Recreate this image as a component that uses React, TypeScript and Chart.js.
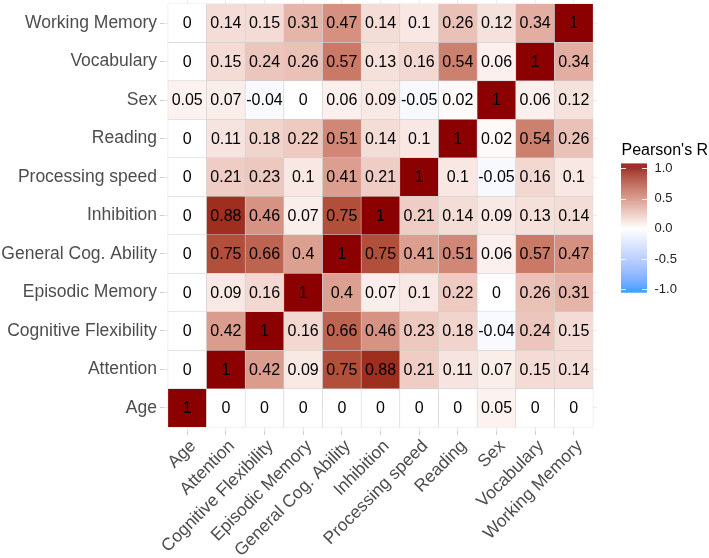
import React, { useEffect, useRef } from 'react';
import { Chart, registerables } from 'chart.js';

Chart.register(...registerables);

// Variables (x: left→right, y: bottom→top)
const variables = [
  'Age',
  'Attention',
  'Cognitive Flexibility',
  'Episodic Memory',
  'General Cog. Ability',
  'Inhibition',
  'Processing speed',
  'Reading',
  'Sex',
  'Vocabulary',
  'Working Memory',
];

// Correlation rows (one per variable, columns in the same order as `variables`)
const rAge = [1, 0, 0, 0, 0, 0, 0, 0, 0.05, 0, 0];
const rAttention = [0, 1, 0.42, 0.09, 0.75, 0.88, 0.21, 0.11, 0.07, 0.15, 0.14];
const rCognitiveFlexibility = [0, 0.42, 1, 0.16, 0.66, 0.46, 0.23, 0.18, -0.04, 0.24, 0.15];
const rEpisodicMemory = [0, 0.09, 0.16, 1, 0.4, 0.07, 0.1, 0.22, 0, 0.26, 0.31];
const rGeneralCogAbility = [0, 0.75, 0.66, 0.4, 1, 0.75, 0.41, 0.51, 0.06, 0.57, 0.47];
const rInhibition = [0, 0.88, 0.46, 0.07, 0.75, 1, 0.21, 0.14, 0.09, 0.13, 0.14];
const rProcessingSpeed = [0, 0.21, 0.23, 0.1, 0.41, 0.21, 1, 0.1, -0.05, 0.16, 0.1];
const rReading = [0, 0.11, 0.18, 0.22, 0.51, 0.14, 0.1, 1, 0.02, 0.54, 0.26];
const rSex = [0.05, 0.07, -0.04, 0, 0.06, 0.09, -0.05, 0.02, 1, 0.06, 0.12];
const rVocabulary = [0, 0.15, 0.24, 0.26, 0.57, 0.13, 0.16, 0.54, 0.06, 1, 0.34];
const rWorkingMemory = [0, 0.14, 0.15, 0.31, 0.47, 0.14, 0.1, 0.26, 0.12, 0.34, 1];

const matrixRows = [
  rAge,
  rAttention,
  rCognitiveFlexibility,
  rEpisodicMemory,
  rGeneralCogAbility,
  rInhibition,
  rProcessingSpeed,
  rReading,
  rSex,
  rVocabulary,
  rWorkingMemory,
];

const legendTitle = "Pearson's R";
const legendValues = [1, 0.5, 0, -0.5, -1];
const legendLabels = ['1.0', '0.5', '0.0', '-0.5', '-1.0'];

const LOW = [30, 144, 255];
const MID = [255, 255, 255];
const HIGH = [139, 0, 0];

const FONT = "'Liberation Sans', Arial, Helvetica, sans-serif";

// ---------- Lab colour interpolation ----------
function toLin(c: number) {
  c /= 255;
  return c <= 0.04045 ? c / 12.92 : Math.pow((c + 0.055) / 1.055, 2.4);
}
function fromLin(c: number) {
  const v = c <= 0.0031308 ? 12.92 * c : 1.055 * Math.pow(c, 1 / 2.4) - 0.055;
  return Math.round(Math.max(0, Math.min(1, v)) * 255);
}
const Xn = 0.95047, Yn = 1.0, Zn = 1.08883;
function rgbToLab(rgb: number[]) {
  const R = toLin(rgb[0]), G = toLin(rgb[1]), B = toLin(rgb[2]);
  const X = (0.4124 * R + 0.3576 * G + 0.1805 * B) / Xn;
  const Y = (0.2126 * R + 0.7152 * G + 0.0722 * B) / Yn;
  const Z = (0.0193 * R + 0.1192 * G + 0.9505 * B) / Zn;
  const f = (t: number) => (t > 0.008856 ? Math.cbrt(t) : 7.787 * t + 16 / 116);
  const fx = f(X), fy = f(Y), fz = f(Z);
  return [116 * fy - 16, 500 * (fx - fy), 200 * (fy - fz)];
}
function labToRgb(lab: number[]) {
  const fy = (lab[0] + 16) / 116;
  const fx = fy + lab[1] / 500;
  const fz = fy - lab[2] / 200;
  const finv = (t: number) => (t * t * t > 0.008856 ? t * t * t : (t - 16 / 116) / 7.787);
  const X = Xn * finv(fx), Y = Yn * finv(fy), Z = Zn * finv(fz);
  const R = 3.2406 * X - 1.5372 * Y - 0.4986 * Z;
  const G = -0.9689 * X + 1.8758 * Y + 0.0415 * Z;
  const B = 0.0557 * X - 0.204 * Y + 1.057 * Z;
  return [fromLin(R), fromLin(G), fromLin(B)];
}
const labLow = rgbToLab(LOW), labMid = rgbToLab(MID), labHigh = rgbToLab(HIGH);
function colorFor(v: number) {
  const t = Math.max(-1, Math.min(1, v));
  const target = t >= 0 ? labHigh : labLow;
  const a = Math.abs(t);
  const lab = [0, 1, 2].map((k) => labMid[k] + (target[k] - labMid[k]) * a);
  const rgb = labToRgb(lab);
  return `rgb(${rgb[0]},${rgb[1]},${rgb[2]})`;
}

// ---------- plugins ----------
const cellTextPlugin = {
  id: 'cellText',
  afterDatasetsDraw(chart: any) {
    const meta = chart.getDatasetMeta(0);
    const data = chart.data.datasets[0].data as any[];
    const ctx = chart.ctx;
    ctx.save();
    ctx.fillStyle = '#000000';
    ctx.font = `16px ${FONT}`;
    ctx.textAlign = 'center';
    ctx.textBaseline = 'middle';
    meta.data.forEach((el: any, i: number) => {
      const cy = (el.y + el.base) / 2;
      ctx.fillText(String(data[i].v), el.x, cy + 1);
    });
    ctx.restore();
  },
};

const colorbarPlugin = {
  id: 'colorbar',
  afterDraw(chart: any) {
    const ctx = chart.ctx;
    const barLeft = 621;
    const barW = 26;
    const barTop = 163.5;
    const barBottom = 292.5;
    const yOne = 168.3;
    const yMinusOne = 289.3;
    const valToY = (v: number) => yOne + ((1 - v) / 2) * (yMinusOne - yOne);
    ctx.save();
    // title
    ctx.fillStyle = '#000000';
    ctx.font = `16px ${FONT}`;
    ctx.textAlign = 'left';
    ctx.textBaseline = 'alphabetic';
    ctx.fillText(legendTitle, 621.5, 155);
    // gradient bar
    for (let y = barTop; y < barBottom; y += 0.5) {
      const v = 1 - ((y + 0.25 - yOne) / (yMinusOne - yOne)) * 2;
      ctx.fillStyle = colorFor(v);
      ctx.fillRect(barLeft, y, barW, 0.6);
    }
    // ticks & labels
    ctx.strokeStyle = 'rgba(255,255,255,0.9)';
    ctx.lineWidth = 1;
    ctx.fillStyle = '#222222';
    ctx.font = `13px ${FONT}`;
    ctx.textBaseline = 'middle';
    legendValues.forEach((v, i) => {
      const y = Math.round(valToY(v)) + 0.5;
      ctx.beginPath();
      ctx.moveTo(barLeft, y);
      ctx.lineTo(barLeft + 5, y);
      ctx.moveTo(barLeft + barW - 5, y);
      ctx.lineTo(barLeft + barW, y);
      ctx.stroke();
      ctx.fillText(legendLabels[i], 654.5, valToY(v));
    });
    ctx.restore();
  },
};

export default function App() {
  const canvasRef = useRef<HTMLCanvasElement | null>(null);

  useEffect(() => {
    if (!canvasRef.current) return;
    const points: any[] = [];
    const colors: string[] = [];
    matrixRows.forEach((row, yi) => {
      row.forEach((v, xi) => {
        points.push({ x: xi, y: [yi - 0.5, yi + 0.5], v });
        colors.push(colorFor(v));
      });
    });

    const tickFont = { family: FONT, size: 17.5 };

    const chart = new Chart(canvasRef.current, {
      type: 'bar',
      data: {
        datasets: [
          {
            data: points,
            backgroundColor: colors,
            borderColor: '#d0d0d0',
            borderWidth: 0.6,
            borderSkipped: false,
            barPercentage: 1,
            categoryPercentage: 1,
          } as any,
        ],
      },
      options: {
        responsive: false,
        animation: false,
        events: [],
        layout: { padding: { left: 0, top: 0, right: 112, bottom: 0 } },
        plugins: {
          legend: { display: false },
          tooltip: { enabled: false },
        },
        scales: {
          x: {
            type: 'linear',
            min: -0.6,
            max: 10.6,
            offset: false,
            afterBuildTicks: (s: any) => {
              s.ticks = variables.map((_, i) => ({ value: i }));
            },
            afterFit: (s: any) => {
              s.height = 127;
              s.paddingLeft = 0;
              s.paddingRight = 0;
            },
            grid: { color: '#ebebeb', tickColor: '#cfcfcf', tickLength: 4, offset: false },
            border: { display: false },
            ticks: {
              autoSkip: false,
              minRotation: 45,
              maxRotation: 45,
              padding: 1,
              labelOffset: 6,
              color: '#4d4d4d',
              font: tickFont,
              callback: (value: any) => variables[value as number],
            },
          },
          y: {
            type: 'linear',
            min: -0.6,
            max: 10.6,
            afterBuildTicks: (s: any) => {
              s.ticks = variables.map((_, i) => ({ value: i }));
            },
            afterFit: (s: any) => {
              s.width = 164;
              s.paddingTop = 0;
              s.paddingBottom = 0;
            },
            grid: { color: '#ebebeb', tickColor: '#cfcfcf', tickLength: 4 },
            border: { display: false },
            ticks: {
              autoSkip: false,
              padding: 3,
              color: '#4d4d4d',
              font: tickFont,
              callback: (value: any) => variables[value as number],
            },
          },
        },
      } as any,
      plugins: [cellTextPlugin, colorbarPlugin],
    });

    return () => chart.destroy();
  }, []);

  return (
    <div style={{ position: 'fixed', left: 0, top: 0, width: 709, height: 558, background: '#ffffff' }}>
      <canvas ref={canvasRef} width={709} height={558} style={{ width: 709, height: 558, display: 'block' }} />
    </div>
  );
}
